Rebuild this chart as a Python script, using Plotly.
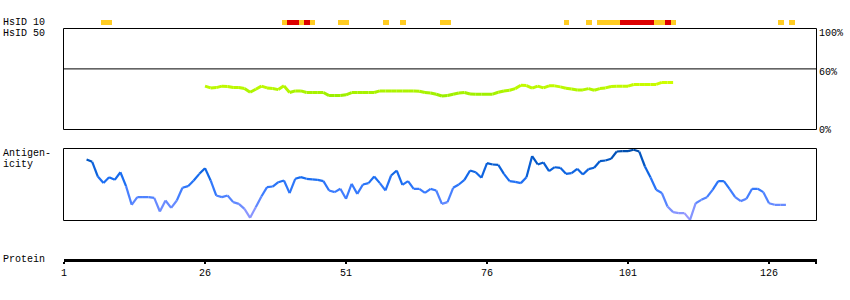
import plotly.graph_objects as go

W, H = 850, 300

# ---------------- data ----------------
protein_length = 134
tick_vals = [1, 26, 51, 76, 101, 126]
tick_text = ["1", "26", "51", "76", "101", "126"]

# HsID 10 strip: residues with orange (partial) and red (high) identity
hsid10_orange = [8, 9, 40, 43, 45, 50, 51, 58, 61, 68, 69, 90, 94, 96, 97, 98, 99,
                 106, 107, 109, 128, 130]
hsid10_red = [41, 42, 44, 100, 101, 102, 103, 104, 105, 108]

# HsID 50 (% identity) starting at residue 26
hsid50_start = 26
hsid50_values = [42.9, 41.2, 41.5, 42.9, 42.6, 41.5, 41.5, 40.5, 36.9, 39.9,
                 42.9, 41.2, 40.5, 39.5, 43.2, 36.6, 38.2, 38.2, 36.6, 36.6,
                 36.6, 36.6, 33.6, 33.6, 33.6, 34.3, 36.6, 36.6, 36.6, 36.6,
                 36.6, 38.2, 38.2, 38.2, 38.2, 38.2, 38.2, 38.2, 37.9, 36.6,
                 36.2, 34.9, 33.2, 33.6, 34.9, 36.2, 36.6, 35.2, 34.9, 34.9,
                 34.9, 35.0, 36.9, 38.2, 38.9, 40.5, 43.9, 43.5, 40.9, 42.9,
                 41.2, 43.2, 43.2, 42.2, 40.9, 40.2, 39.2, 39.2, 40.5, 38.9,
                 40.5, 41.2, 42.6, 42.9, 42.9, 42.9, 44.6, 44.6, 44.6, 44.6,
                 44.6, 46.6, 46.6, 46.6]

# Antigenicity (relative score 0-100) starting at residue 5
antigen_start = 5
antigen_values = [84.7, 81.5, 61.0, 52.0, 60.0, 56.5, 67.0, 47.7, 21.8, 32.4,
                  32.4, 32.4, 31.5, 12.5, 27.8, 17.5, 27.8, 45.4, 47.7, 55.6,
                  64.8, 72.7, 55.6, 34.7, 32.4, 34.7, 25.5, 23.1, 16.2, 3.7,
                  18.5, 33.3, 46.3, 47.2, 53.2, 55.6, 38.0, 57.9, 60.2, 57.9,
                  57.0, 56.5, 54.6, 41.7, 39.4, 44.0, 30.1, 51.0, 37.0, 50.0,
                  51.9, 61.0, 51.9, 41.7, 62.5, 69.4, 49.5, 54.6, 44.0, 44.0,
                  38.4, 44.0, 41.7, 23.1, 25.5, 45.4, 50.0, 56.5, 69.4, 67.1,
                  59.3, 79.6, 77.8, 77.3, 64.8, 54.6, 53.7, 51.9, 60.2, 89.4,
                  77.8, 80.6, 68.5, 74.0, 73.2, 64.8, 65.7, 71.8, 63.9, 71.3,
                  73.2, 82.4, 83.3, 85.7, 95.8, 96.3, 96.3, 98.2, 95.8, 75.0,
                  59.7, 42.8, 38.2, 19.4, 11.6, 10.2, 10.2, 0.9, 24.0, 28.7,
                  32.4, 42.6, 54.6, 54.6, 44.0, 32.4, 26.9, 30.1, 44.0, 44.0,
                  39.4, 24.0, 21.8, 21.8, 21.8]

# ---------------- styling ----------------
FONT = "Liberation Mono"
ORANGE = "#FFCC22"
RED = "#DD0000"
BLUE_STOPS = [(0, (0xAA, 0xA0, 0xFF)), (20, (0x6C, 0x8C, 0xFF)), (40, (0x3C, 0x7C, 0xFF)),
              (60, (0x16, 0x6C, 0xF0)), (80, (0x04, 0x5A, 0xCC)), (100, (0x00, 0x4C, 0xA8))]
GREEN_STOPS = [(33, (0x99, 0xEE, 0x00)), (47, (0xD0, 0xFF, 0x00))]


def interp(stops, v):
    if v <= stops[0][0]:
        c = stops[0][1]
    elif v >= stops[-1][0]:
        c = stops[-1][1]
    else:
        for (v0, c0), (v1, c1) in zip(stops, stops[1:]):
            if v0 <= v <= v1:
                t = (v - v0) / (v1 - v0)
                c = tuple(round(a + (b - a) * t) for a, b in zip(c0, c1))
                break
    return "rgb(%d,%d,%d)" % c


def fx(px):
    return px / W


def fy(py):
    return 1 - py / H


# pixel geometry
X_LEFT, X_RIGHT = 63.5, 816.5
RES1_PX, PX_PER_RES = 64.0, 5.64
x_range = [1 - (RES1_PX - X_LEFT) / PX_PER_RES, 1 + (X_RIGHT - RES1_PX) / PX_PER_RES]

fig = go.Figure()

# HsID 10 strip
fig.add_trace(go.Bar(x=hsid10_orange, y=[1] * len(hsid10_orange), width=1,
                     marker=dict(color=ORANGE, line=dict(width=0)),
                     xaxis="x", yaxis="y", hoverinfo="skip", showlegend=False))
fig.add_trace(go.Bar(x=hsid10_red, y=[1] * len(hsid10_red), width=1,
                     marker=dict(color=RED, line=dict(width=0)),
                     xaxis="x", yaxis="y", hoverinfo="skip", showlegend=False))


def add_gradient_line(start, values, stops, width, yaxis):
    xs = list(range(start, start + len(values)))
    for i in range(len(values) - 1):
        c = interp(stops, (values[i] + values[i + 1]) / 2)
        fig.add_trace(go.Scatter(x=[xs[i], xs[i + 1]], y=[values[i], values[i + 1]],
                                 mode="lines", line=dict(color=c, width=width),
                                 xaxis="x", yaxis=yaxis, hoverinfo="skip",
                                 showlegend=False))


add_gradient_line(hsid50_start, hsid50_values, GREEN_STOPS, 3, "y2")
add_gradient_line(antigen_start, antigen_values, BLUE_STOPS, 2.2, "y3")

noax = dict(showgrid=False, zeroline=False, showticklabels=False, ticks="",
            showline=False)

fig.update_layout(
    width=W, height=H,
    margin=dict(l=0, r=0, t=0, b=0, pad=0, autoexpand=False),
    paper_bgcolor="white", plot_bgcolor="rgba(0,0,0,0)",
    font=dict(family=FONT, size=10, color="black"),
    bargap=0,
    xaxis=dict(domain=[fx(X_LEFT), fx(X_RIGHT)], range=x_range,
               anchor="free", position=fy(260), automargin=False,
               showgrid=False, zeroline=False,
               showline=True, linewidth=3, linecolor="black",
               ticks="outside", ticklen=2, tickwidth=2, tickcolor="black",
               tickvals=tick_vals + [x_range[1] - 0.02],
               ticktext=tick_text + [""],
               tickfont=dict(family=FONT, size=10, color="black")),
    yaxis=dict(domain=[fy(25), fy(20)], range=[0, 1], automargin=False, **noax),
    yaxis2=dict(domain=[fy(129.5), fy(28.5)], range=[0, 100], anchor="x",
                automargin=False, **noax),
    yaxis3=dict(domain=[fy(220.5), fy(148.5)], range=[0, 100], anchor="x",
                automargin=False, **noax),
    shapes=[
        dict(type="rect", xref="x domain", yref="y2 domain", x0=0, x1=1, y0=0, y1=1,
             line=dict(color="black", width=1), fillcolor="rgba(0,0,0,0)"),
        dict(type="line", xref="x domain", yref="y2", x0=0, x1=1, y0=60, y1=60,
             line=dict(color="black", width=1)),
        dict(type="rect", xref="x domain", yref="y3 domain", x0=0, x1=1, y0=0, y1=1,
             line=dict(color="black", width=1), fillcolor="rgba(0,0,0,0)"),
    ],
)

labels = [
    ("HsID 10", 2.5, 22.8, "left"),
    ("HsID 50", 2.5, 33.2, "left"),
    ("Antigen-", 2.5, 153.5, "left"),
    ("icity", 2.5, 164.5, "left"),
    ("Protein", 2.5, 259.5, "left"),
    ("100%", 819, 33.5, "left"),
    ("60%", 819, 72, "left"),
    ("0%", 819, 130.5, "left"),
]
for text, x, y, xa in labels:
    fig.add_annotation(text=text, x=fx(x), y=fy(y), xref="paper", yref="paper",
                       xanchor=xa, yanchor="middle", showarrow=False,
                       borderpad=0, borderwidth=0,
                       font=dict(family=FONT, size=10, color="black"))

fig.write_html("out.html")
